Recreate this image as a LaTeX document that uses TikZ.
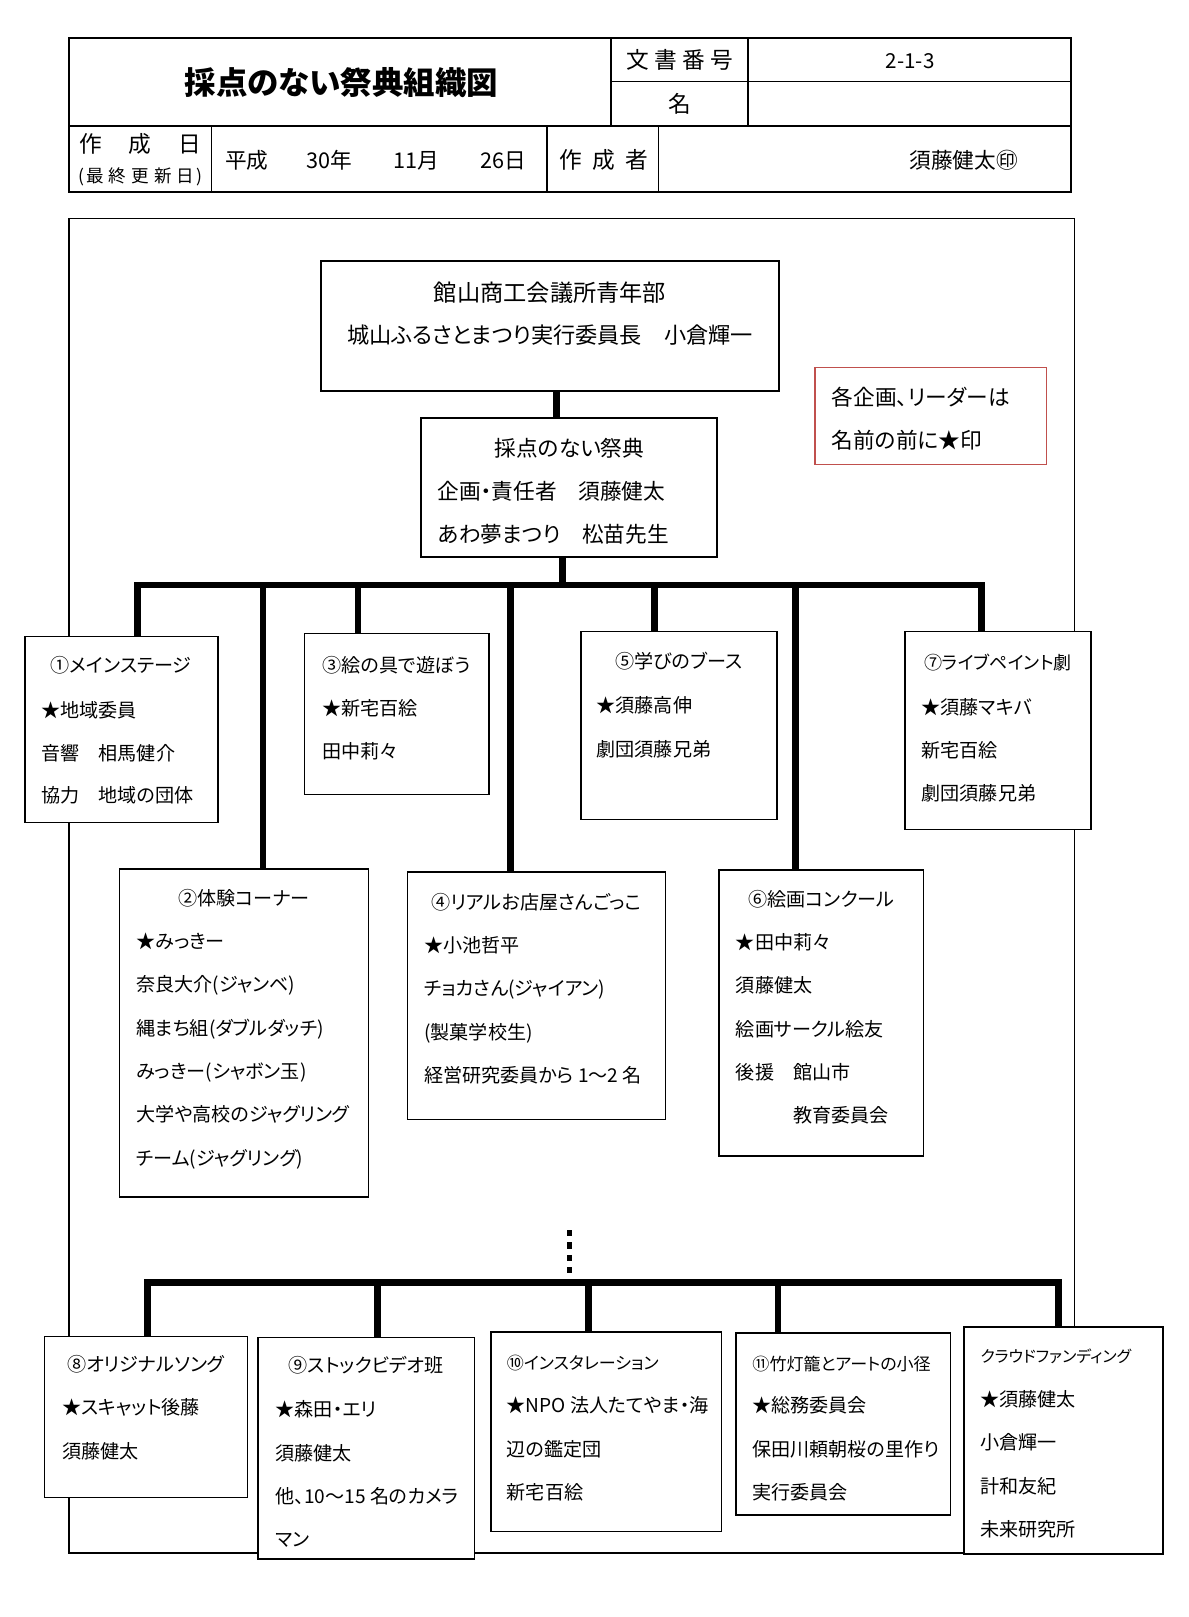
\documentclass[tikz,border=0pt]{standalone}
\usepackage{fontspec}
\setmainfont{Noto Sans CJK JP}[RawFeature=+palt]
\definecolor{notered}{RGB}{192,80,77}
\tikzset{
  box/.style={draw, line width=1.5pt, fill=white, inner sep=0pt},
  trunk/.style={line width=6.5pt},
  txt/.style={inner sep=0pt, font=\fontsize{18.5}{22}\selectfont, text height=16.3pt, text depth=2.2pt},
  txtbig/.style={inner sep=0pt, font=\fontsize{21}{25}\selectfont, text height=18.5pt, text depth=2.5pt},
  smalltxt/.style={font=\fontsize{16.5}{19}\selectfont},
  tinytxt/.style={font=\fontsize{15.5}{18}\selectfont},
}
\begin{document}
\begin{tikzpicture}[x=1pt,y=-1pt]
\fill[white] (0,0) rectangle (1152,1567);
\useasboundingbox (0,0) rectangle (1152,1567);

% header table
\draw[line width=1.6pt] (67,37) rectangle (1038,186);
\draw[line width=1.3pt] (67,122) -- (1038,122)
  (592,37) -- (592,122) (725,37) -- (725,122) (592,79) -- (1038,79)
  (205,122) -- (205,186) (530,122) -- (530,186) (638,122) -- (638,186);
\node[inner sep=0pt, font=\fontsize{30.5}{34}\selectfont\bfseries] (title) at (331,80) {採点のない祭典組織図};
\node[txtbig, font=\fontsize{22}{26}\selectfont] (docno) at (659,58) {文\kern5pt書\kern5pt番\kern5pt号};
\node[txtbig, font=\fontsize{20}{24}\selectfont] (docnoval) at (882,58) {2-1-3};
\node[txtbig, font=\fontsize{22}{26}\selectfont] (name) at (659,101) {名};
\node[txtbig, font=\fontsize{22}{26}\selectfont] (date) at (136,140) {作\kern26pt成\kern26pt日};
\node[txt, font=\fontsize{17}{20}\selectfont] (upd) at (136,170) {(\kern2pt最\kern5pt終\kern5pt更\kern5pt新\kern5pt日\kern2pt)};
\node[txtbig, anchor=west] (dateval) at (218,155) {平成\kern37pt30年\kern40pt11月\kern40pt26日};
\node[txtbig, font=\fontsize{22}{26}\selectfont] (author) at (585,155) {作\kern10pt成\kern10pt者};
\node[txtbig] (authorval) at (934,155) {須藤健太㊞};

% frame
\draw[line width=1.3pt] (67,212) rectangle (1041,1505);

% top boxes
\node[box, minimum width=444pt, minimum height=126pt] (top) at (533,316) {};
\node[txtbig, font=\fontsize{22.5}{26}\selectfont] (topa) at (533,284) {館山商工会議所青年部};
\node[txtbig, font=\fontsize{21.5}{25}\selectfont] (topb) at (533,325) {城山ふるさとまつり実行委員長　小倉輝一};
\node[box, minimum width=287pt, minimum height=135pt] (mid) at (551.5,472.5) {};
\node[txtbig] (mida) at (552,434) {採点のない祭典};
\node[txtbig, anchor=west] (midb) at (424,476) {企画・責任者　須藤健太};
\node[txtbig, anchor=west] (midc) at (424,518) {あわ夢まつり　松苗先生};
\node[draw=notered, line width=1.5pt, minimum width=224pt, minimum height=94pt] (note) at (902,403) {};
\node[txtbig, anchor=west] (notea) at (806,385) {各企画、リーダーは};
\node[txtbig, anchor=west] (noteb) at (806,427) {名前の前に★印};

% connectors
\coordinate (c0) at (539,379);
\draw[trunk] (c0) -- (c0 |- mid.north);
\coordinate (m0) at (545,567);
\draw[trunk] (mid.south -| m0) -- (m0);
\coordinate (d1) at (133,567);
\coordinate (d2) at (255,567);
\coordinate (d3) at (347,567);
\coordinate (d4) at (495,567);
\coordinate (d5) at (634,567);
\coordinate (d6) at (771,567);
\coordinate (d7) at (951,567);
\coordinate (dots) at (552,1192);
\coordinate (e0) at (552,1243);
\coordinate (e1) at (143,1243);
\coordinate (e2) at (366,1243);
\coordinate (e3) at (570,1243);
\coordinate (e4) at (754,1243);
\coordinate (e5) at (1026,1243);

% group boxes
\node[box, minimum width=187pt, minimum height=180pt] (b1) at (117.5,707) {};
\node[box, minimum width=241pt, minimum height=318pt] (b2) at (236.5,1001) {};
\node[box, minimum width=179pt, minimum height=156pt] (b3) at (384.5,692) {};
\node[box, minimum width=250pt, minimum height=240pt] (b4) at (520,965) {};
\node[box, minimum width=190pt, minimum height=182pt] (b5) at (658,703) {};
\node[box, minimum width=198pt, minimum height=277pt] (b6) at (796,981.5) {};
\node[box, minimum width=180pt, minimum height=192pt] (b7) at (967,708) {};
\node[box, minimum width=197pt, minimum height=156pt] (b8) at (141.5,1373) {};
\node[box, minimum width=210pt, minimum height=215pt] (b9) at (355,1403.5) {};
\node[box, minimum width=223pt, minimum height=193pt] (b10) at (587.5,1387.5) {};
\node[box, minimum width=208pt, minimum height=176pt] (b11) at (817,1380) {};
\node[box, minimum width=193pt, minimum height=220pt] (b12) at (1030.5,1396) {};

\draw[trunk] (d1 |- b1.north) -- (d1) -- (d7) -- (d7 |- b7.north);
\foreach \d/\b in {d2/b2,d3/b3,d4/b4,d5/b5,d6/b6}
  \draw[trunk] (\d) -- (\d |- \b.north);
\draw[trunk, line width=5pt, dash pattern=on 6pt off 6pt] (dots) -- (e0);
\draw[trunk] (e1 |- b8.north) -- (e1) -- (e5) -- (e5 |- b12.north);
\foreach \e/\b in {e2/b9,e3/b10,e4/b11}
  \draw[trunk] (\e) -- (\e |- \b.north);

% texts of the groups
\node[txt] (b1t) at (117.5,645) {①メインステージ};
\node[txt, anchor=west] (b1a) at (40,688) {★地域委員};
\node[txt, anchor=west] (b1b) at (40,730) {音響　相馬健介};
\node[txt, anchor=west] (b1c) at (40,771) {協力　地域の団体};

\node[txt] (b2t) at (236.5,870) {②体験コーナー};
\node[txt, anchor=west] (b2a) at (132,912) {★みっきー};
\node[txt, anchor=west] (b2b) at (132,954) {奈良大介(ジャンベ)};
\node[txt, anchor=west] (b2c) at (132,996) {縄まち組(ダブルダッチ)};
\node[txt, anchor=west] (b2d) at (132,1038) {みっきー(シャボン玉)};
\node[txt, anchor=west] (b2e) at (132,1080) {大学や高校のジャグリング};
\node[txt, anchor=west] (b2f) at (132,1122) {チーム(ジャグリング)};

\node[txt] (b3t) at (384.5,645) {③絵の具で遊ぼう};
\node[txt, anchor=west] (b3a) at (312,686) {★新宅百絵};
\node[txt, anchor=west] (b3b) at (312,728) {田中莉々};

\node[txt] (b4t) at (520,874) {④リアルお店屋さんごっこ};
\node[txt, anchor=west] (b4a) at (411,916) {★小池哲平};
\node[txt, anchor=west] (b4b) at (411,958) {チョカさん(ジャイアン)};
\node[txt, anchor=west] (b4c) at (411,1000) {(製菓学校生)};
\node[txt, anchor=west] (b4d) at (411,1042) {経営研究委員から 1～2 名};

\node[txt] (b5t) at (658,641) {⑤学びのブース};
\node[txt, anchor=west] (b5a) at (578,683) {★須藤高伸};
\node[txt, anchor=west] (b5b) at (578,726) {劇団須藤兄弟};

\node[txt] (b6t) at (796,871) {⑥絵画コンクール};
\node[txt, anchor=west] (b6a) at (713,913) {★田中莉々};
\node[txt, anchor=west] (b6b) at (713,955) {須藤健太};
\node[txt, anchor=west] (b6c) at (713,997) {絵画サークル絵友};
\node[txt, anchor=west] (b6d) at (713,1039) {後援　館山市};
\node[txt, anchor=west] (b6e) at (713,1081) {　　　教育委員会};

\node[txt, font=\fontsize{17.5}{20}\selectfont] (b7t) at (967,642) {⑦ライブペイント劇};
\node[txt, anchor=west] (b7a) at (893,685) {★須藤マキバ};
\node[txt, anchor=west] (b7b) at (893,727) {新宅百絵};
\node[txt, anchor=west] (b7c) at (893,769) {劇団須藤兄弟};

\node[txt] (b8t) at (141.5,1322) {⑧オリジナルソング};
\node[txt, anchor=west] (b8a) at (60,1364) {★スキャット後藤};
\node[txt, anchor=west] (b8b) at (60,1406) {須藤健太};

\node[txt] (b9t) at (355,1323) {⑨ストックビデオ班};
\node[txt, anchor=west] (b9a) at (267,1366) {★森田・エリ};
\node[txt, anchor=west] (b9b) at (267,1408) {須藤健太};
\node[txt, anchor=west] (b9c) at (267,1450) {他、10～15 名のカメラ};
\node[txt, anchor=west] (b9d) at (267,1492) {マン};

\node[txt, smalltxt, anchor=west] (b10t) at (491,1320) {⑩インスタレーション};
\node[txt, anchor=west] (b10a) at (491,1362) {★NPO 法人たてやま・海};
\node[txt, anchor=west] (b10b) at (491,1404) {辺の鑑定団};
\node[txt, anchor=west] (b10c) at (491,1446) {新宅百絵};

\node[txt, smalltxt, anchor=west] (b11t) at (729,1321) {⑪竹灯籠とアートの小径};
\node[txt, anchor=west] (b11a) at (729,1362) {★総務委員会};
\node[txt, anchor=west] (b11b) at (729,1404) {保田川頼朝桜の里作り};
\node[txt, anchor=west] (b11c) at (729,1446) {実行委員会};

\node[txt, tinytxt, anchor=west] (b12t) at (950,1313) {クラウドファンディング};
\node[txt, anchor=west] (b12a) at (950,1356) {★須藤健太};
\node[txt, anchor=west] (b12b) at (950,1398) {小倉輝一};
\node[txt, anchor=west] (b12c) at (950,1440) {計和友紀};
\node[txt, anchor=west] (b12d) at (950,1482) {未来研究所};
\end{tikzpicture}
\end{document}
